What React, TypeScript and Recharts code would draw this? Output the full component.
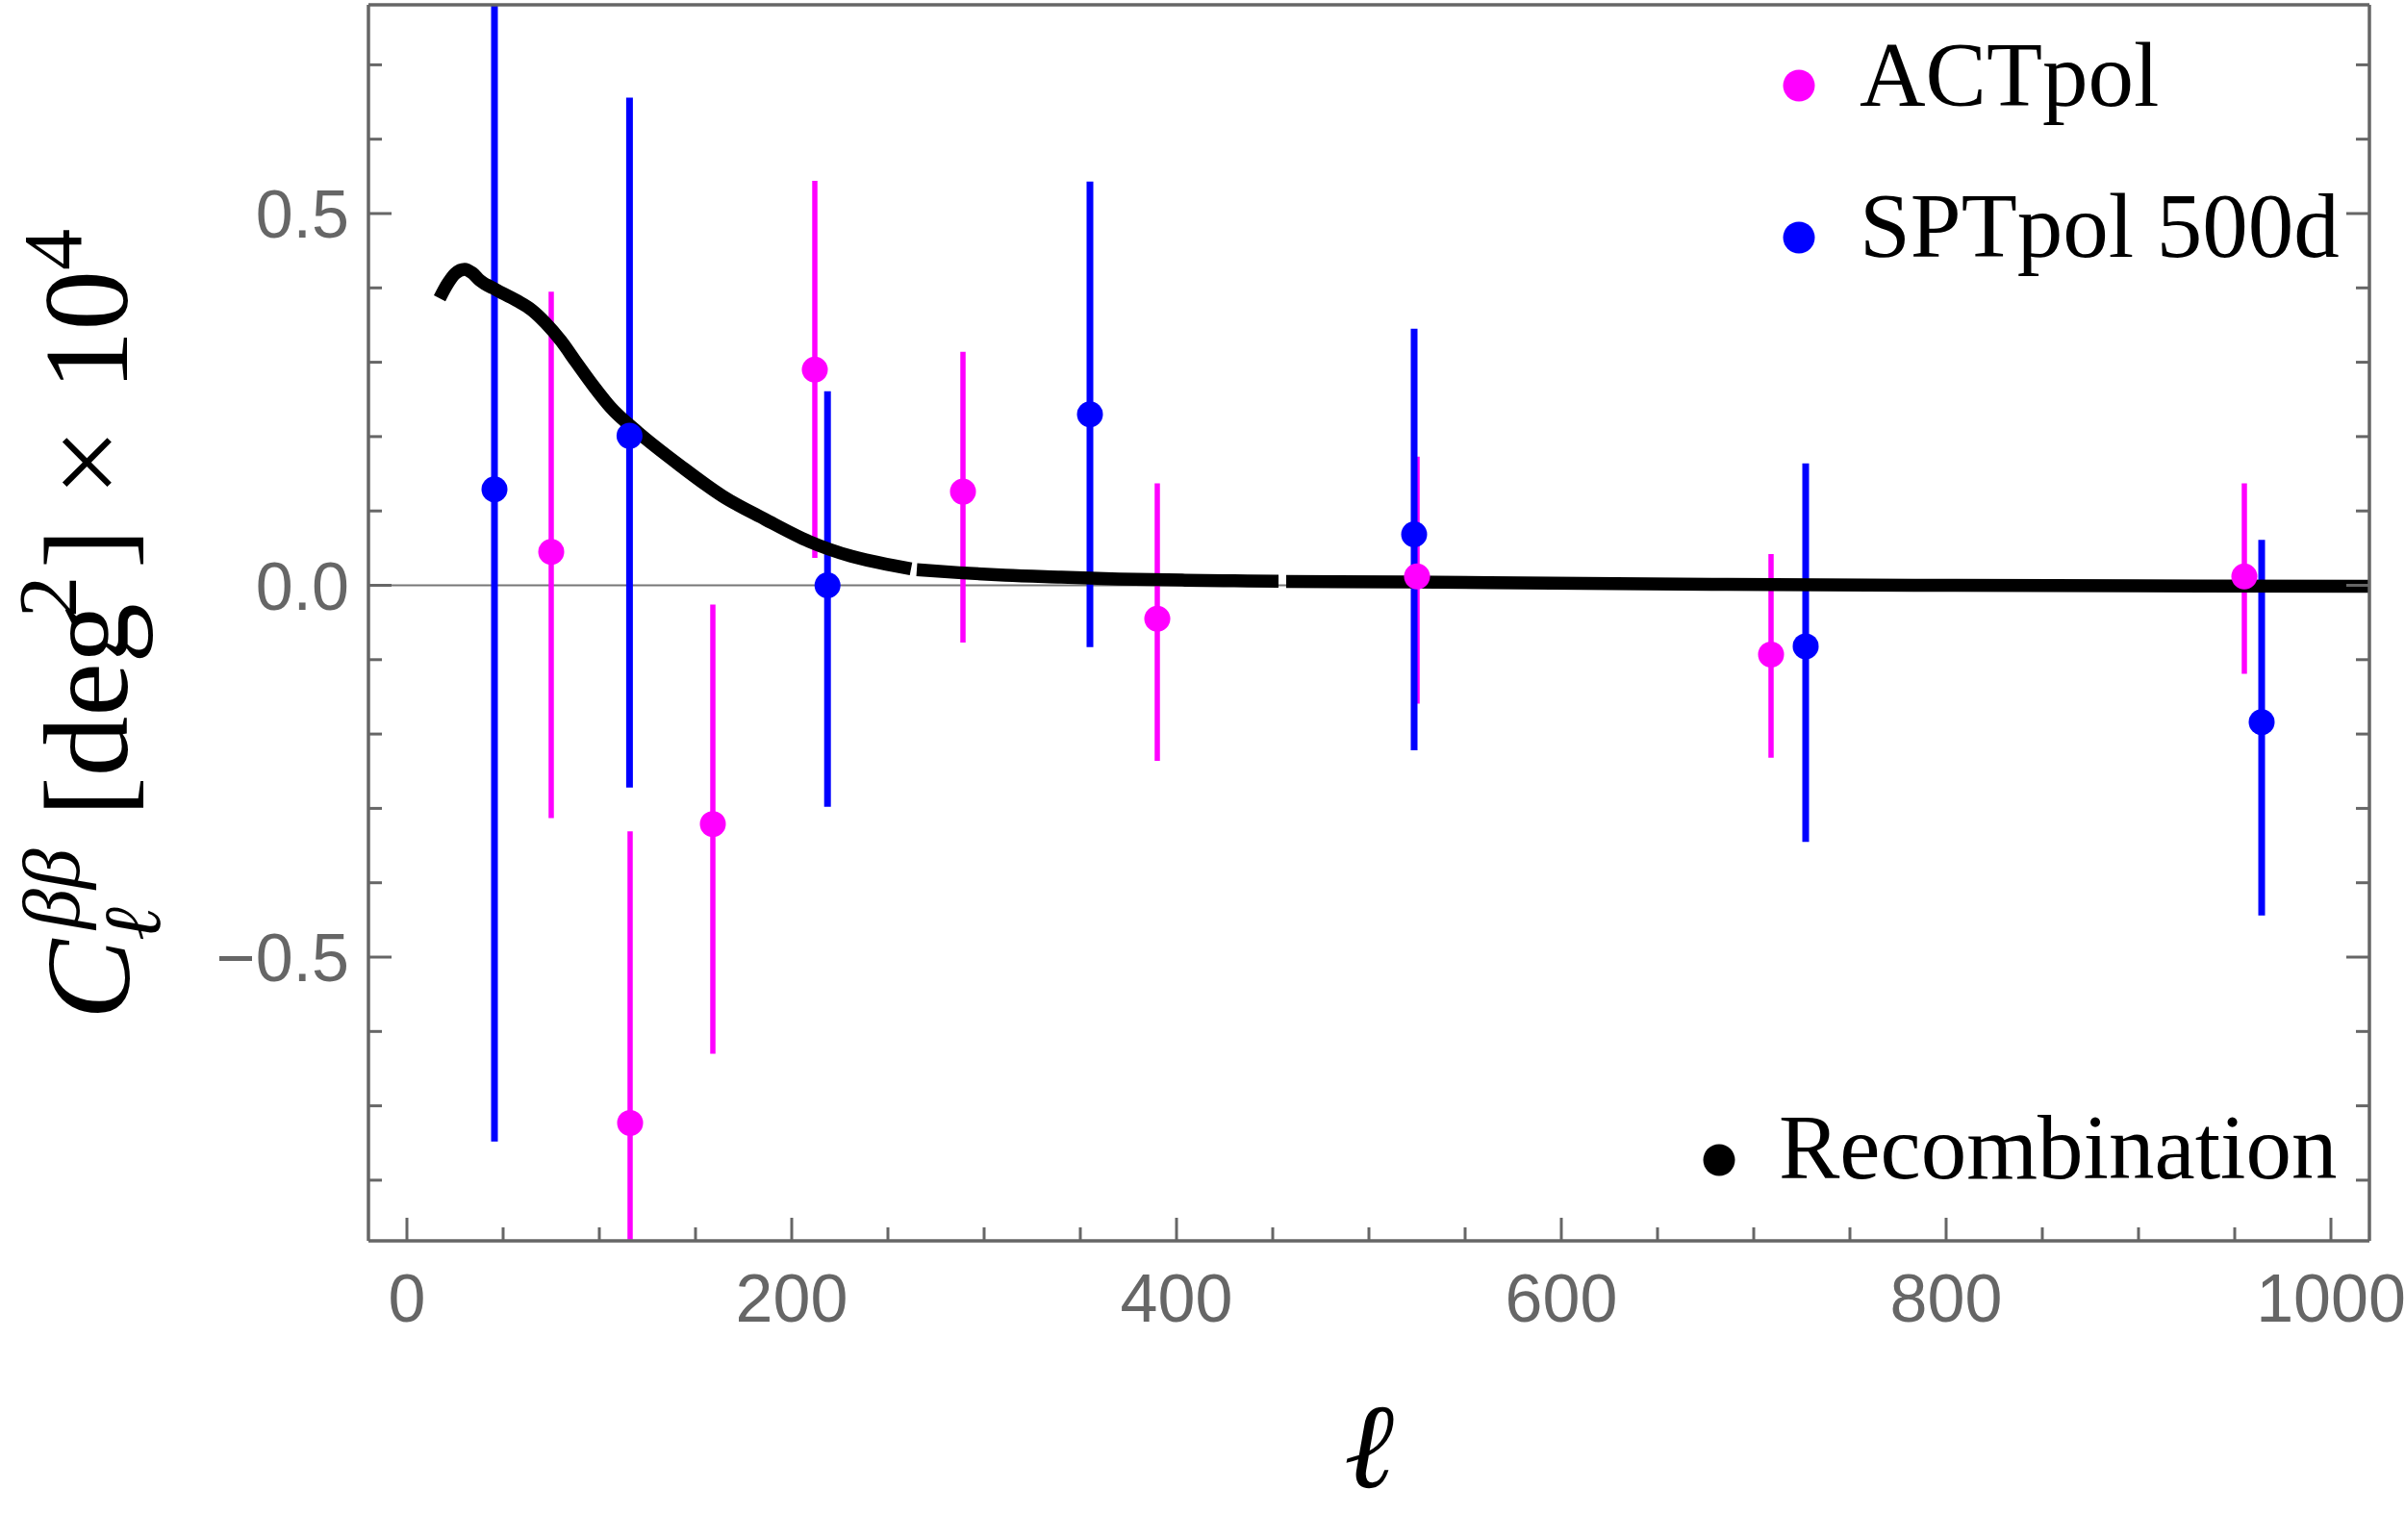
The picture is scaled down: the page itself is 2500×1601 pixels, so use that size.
import React from 'react'
import {
  ComposedChart,
  Scatter,
  Line,
  XAxis,
  YAxis,
  ErrorBar,
  ReferenceLine,
  Legend,
} from 'recharts'

// ACTpol band powers
const ACT_L = [75, 116, 159, 212, 289, 390, 525, 709, 955]
const ACT_V = [0.045, -0.723, -0.321, 0.29, 0.126, -0.045, 0.012, -0.093, 0.012]
const ACT_LO = [-0.313, -0.88, -0.63, 0.037, -0.077, -0.236, -0.159, -0.232, -0.119]
const ACT_HI = [0.395, -0.331, -0.026, 0.544, 0.314, 0.137, 0.173, 0.042, 0.137]

// SPTpol 500d band powers
const SPT_L = [45.5, 115.7, 218.6, 355, 523.5, 727, 964]
const SPT_V = [0.129, 0.201, 0.0, 0.23, 0.0685, -0.082, -0.184]
const SPT_LO = [-0.748, -0.272, -0.298, -0.083, -0.222, -0.345, -0.444]
const SPT_HI = [0.78, 0.656, 0.261, 0.543, 0.345, 0.164, 0.061]

// recombination curve, drawn in three pieces (small gaps in the original)
const REC_L1 = [17, 21, 25, 30, 34, 38, 46, 57, 65, 72, 80, 88, 97, 106, 120, 142, 164, 186, 209, 231, 254, 262]
const REC_V1 = [0.386, 0.405, 0.419, 0.425, 0.42, 0.41, 0.398, 0.383, 0.37, 0.353, 0.329, 0.3, 0.268, 0.239, 0.206, 0.161, 0.12, 0.089, 0.059, 0.039, 0.026, 0.022]
const REC_L2 = [265, 287, 311, 340, 370, 403, 430, 453]
const REC_V2 = [0.021, 0.017, 0.0136, 0.011, 0.0085, 0.007, 0.006, 0.0055]
const REC_L3 = [457, 518, 595, 686, 800, 900, 1020]
const REC_V3 = [0.0053, 0.0045, 0.003, 0.0012, 0.0, -0.0007, -0.0012]

const X_TICKS = [0, 50, 100, 150, 200, 250, 300, 350, 400, 450, 500, 550, 600, 650, 700, 750, 800, 850, 900, 950, 1000]
const Y_TICKS = [-0.8, -0.7, -0.6, -0.5, -0.4, -0.3, -0.2, -0.1, 0, 0.1, 0.2, 0.3, 0.4, 0.5, 0.6, 0.7]

const MAGENTA = '#FF00FF'
const BLUE = '#0000FF'
const FRAME = '#666666'
const SERIF = '"Liberation Serif", "DejaVu Serif", serif'
const SANS = '"Liberation Sans", Arial, sans-serif'

const toPoints = (ls: number[], vs: number[], lo?: number[], hi?: number[]) =>
  ls.map((l, i) => ({
    l,
    v: vs[i],
    err: lo && hi ? [vs[i] - lo[i], hi[i] - vs[i]] : undefined,
  }))

const actData = toPoints(ACT_L, ACT_V, ACT_LO, ACT_HI)
const sptData = toPoints(SPT_L, SPT_V, SPT_LO, SPT_HI)
const rec1 = toPoints(REC_L1, REC_V1)
const rec2 = toPoints(REC_L2, REC_V2)
const rec3 = toPoints(REC_L3, REC_V3)

const isMajorX = (v: number) => v % 200 === 0
const isMajorY = (v: number) => Math.abs(v * 2 - Math.round(v * 2)) < 1e-6

function BottomTick(props: any) {
  const { x, y, payload } = props
  const major = isMajorX(payload.value)
  return (
    <g>
      <line x1={x} x2={x} y1={y} y2={y - (major ? 24 : 14)} stroke={FRAME} strokeWidth={3} />
      {major && (
        <text x={x} y={y + 84} textAnchor="middle" fontFamily={SANS} fontSize={70} fill={FRAME}>
          {payload.value}
        </text>
      )}
    </g>
  )
}

function TopTick(props: any) {
  const { x, y, payload } = props
  const major = isMajorX(payload.value)
  return <line x1={x} x2={x} y1={y} y2={y + (major ? 24 : 14)} stroke={FRAME} strokeWidth={3} />
}

function LeftTick(props: any) {
  const { x, y, payload } = props
  const major = isMajorY(payload.value)
  const label = payload.value < 0 ? '\u2212' + Math.abs(payload.value).toFixed(1) : payload.value.toFixed(1)
  return (
    <g>
      <line x1={x} x2={x + (major ? 24 : 14)} y1={y} y2={y} stroke={FRAME} strokeWidth={3} />
      {major && (
        <text x={x - 20} y={y + 25} textAnchor="end" fontFamily={SANS} fontSize={70} fill={FRAME}>
          {label}
        </text>
      )}
    </g>
  )
}

function RightTick(props: any) {
  const { x, y, payload } = props
  const major = isMajorY(payload.value)
  return <line x1={x} x2={x - (major ? 24 : 14)} y1={y} y2={y} stroke={FRAME} strokeWidth={3} />
}

const dot = (color: string) => (p: any) => <circle cx={p.cx} cy={p.cy} r={13.5} fill={color} />

function YTitle() {
  // rotated: text x runs upward along the screen, text y is the screen x
  return (
    <text transform="rotate(-90)" fontFamily={SERIF} fill="#000">
      <tspan x={-1060} y={134} fontSize={125} fontStyle="italic">C</tspan>
      <tspan x={-966} y={82} fontSize={84} fontStyle="italic">ββ</tspan>
      <tspan x={-978} y={166} fontSize={84} fontStyle="italic">ℓ</tspan>
      <tspan x={-849} y={132} fontSize={125}>[deg</tspan>
      <tspan x={-642} y={79} fontSize={86}>2</tspan>
      <tspan x={-591} y={132} fontSize={125}>]</tspan>
      <tspan x={-516} y={132} fontSize={125}>×</tspan>
      <tspan x={-406} y={132} fontSize={125}>10</tspan>
      <tspan x={-281} y={84} fontSize={86}>4</tspan>
    </text>
  )
}

function LegendOverlay() {
  return (
    <svg width={2500} height={1601} style={{ position: 'absolute', left: 0, top: 0 }}>
      <circle cx={1870} cy={89} r={16.5} fill={MAGENTA} />
      <text x={1933} y={110} fontFamily={SERIF} fontSize={95} fill="#000">ACTpol</text>
      <circle cx={1870} cy={247} r={16.5} fill={BLUE} />
      <text x={1933} y={267} fontFamily={SERIF} fontSize={95} fill="#000">SPTpol 500d</text>
      <circle cx={1787} cy={1206} r={16.5} fill="#000" />
      <text x={1849} y={1225} fontFamily={SERIF} fontSize={95} fill="#000">Recombination</text>
      <YTitle />
      <text x={1423} y={1546} textAnchor="middle" fontFamily={SERIF} fontSize={125} fontStyle="italic" fill="#000">
        ℓ
      </text>
    </svg>
  )
}

export default function App() {
  const axisLine = { stroke: FRAME, strokeWidth: 3.5 }
  return (
    <div style={{ position: 'absolute', left: 0, top: 0, width: 2500, height: 1601, background: '#fff' }}>
      <ComposedChart width={2500} height={1601} margin={{ top: 4, right: 36, bottom: 231, left: 303 }}>
        <XAxis
          xAxisId="b"
          type="number"
          dataKey="l"
          domain={[-20, 1020]}
          ticks={X_TICKS}
          interval={0}
          allowDataOverflow
          height={80}
          tickSize={0}
          tickMargin={0}
          tickLine={false}
          axisLine={axisLine}
          tick={<BottomTick />}
        />
        <XAxis
          xAxisId="t"
          orientation="top"
          type="number"
          domain={[-20, 1020]}
          ticks={X_TICKS}
          interval={0}
          allowDataOverflow
          height={1}
          tickSize={0}
          tickMargin={0}
          tickLine={false}
          axisLine={axisLine}
          tick={<TopTick />}
        />
        <YAxis
          yAxisId="l"
          type="number"
          dataKey="v"
          domain={[-0.8816, 0.7807]}
          ticks={Y_TICKS}
          interval={0}
          allowDataOverflow
          width={80}
          tickSize={0}
          tickMargin={0}
          tickLine={false}
          axisLine={axisLine}
          tick={<LeftTick />}
        />
        <YAxis
          yAxisId="r"
          orientation="right"
          type="number"
          domain={[-0.8816, 0.7807]}
          ticks={Y_TICKS}
          interval={0}
          allowDataOverflow
          width={1}
          tickSize={0}
          tickMargin={0}
          tickLine={false}
          axisLine={axisLine}
          tick={<RightTick />}
        />
        <ReferenceLine xAxisId="b" yAxisId="l" y={0} stroke="#777" strokeWidth={2} />
        <Scatter
          name="ACTpol"
          data={actData}
          xAxisId="b"
          yAxisId="l"
          dataKey="v"
          fill={MAGENTA}
          shape={dot(MAGENTA)}
          isAnimationActive={false}
        >
          <ErrorBar dataKey="err" direction="y" width={0} stroke={MAGENTA} strokeWidth={5.5} isAnimationActive={false} />
        </Scatter>
        <Scatter
          name="SPTpol 500d"
          data={sptData}
          xAxisId="b"
          yAxisId="l"
          dataKey="v"
          fill={BLUE}
          shape={dot(BLUE)}
          isAnimationActive={false}
        >
          <ErrorBar dataKey="err" direction="y" width={0} stroke={BLUE} strokeWidth={7} isAnimationActive={false} />
        </Scatter>
        {[rec1, rec2, rec3].map((seg, i) => (
          <Line
            key={i}
            name="Recombination"
            data={seg}
            xAxisId="b"
            yAxisId="l"
            dataKey="v"
            type="monotone"
            stroke="#000"
            strokeWidth={13.5}
            dot={false}
            activeDot={false}
            isAnimationActive={false}
          />
        ))}
        <Legend
          layout="horizontal"
          verticalAlign="middle"
          align="center"
          wrapperStyle={{ left: 0, top: 0, width: 2500, height: 1601, pointerEvents: 'none' }}
          content={() => <LegendOverlay />}
        />
      </ComposedChart>
    </div>
  )
}
